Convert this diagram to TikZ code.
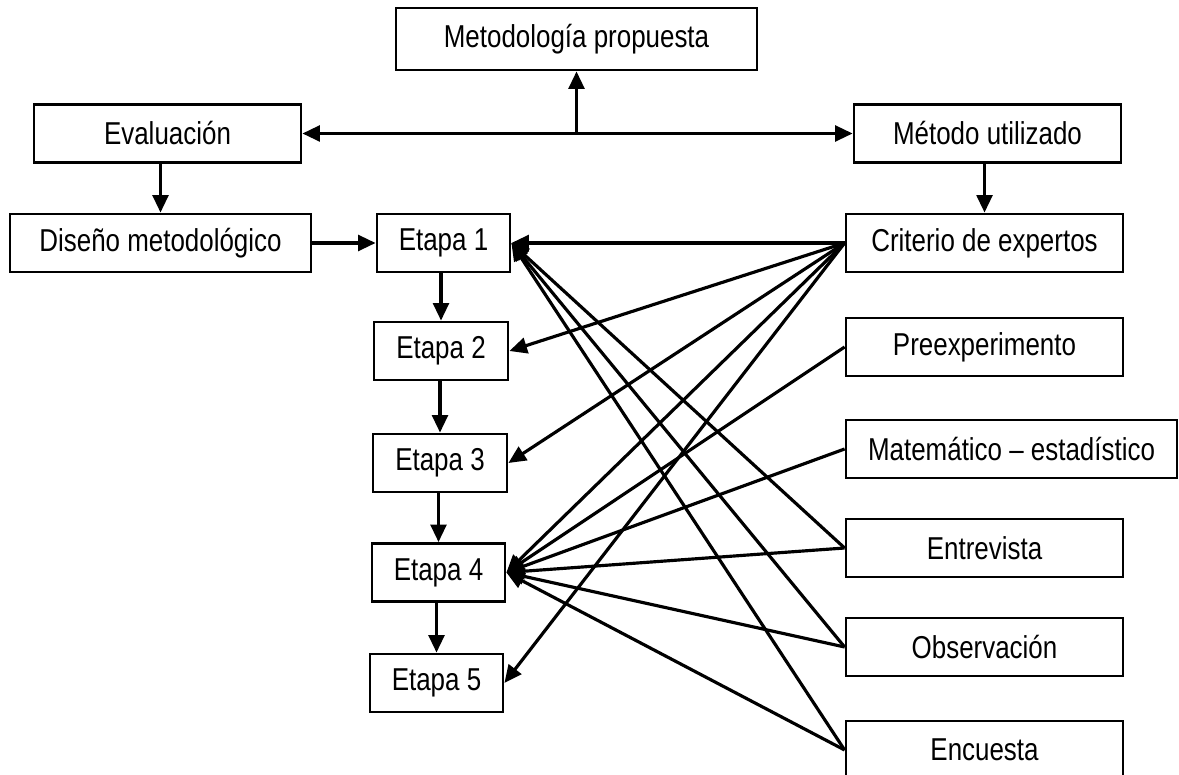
\documentclass[tikz,border=0pt]{standalone}
\usepackage{fontspec}
\setmainfont[FakeStretch=0.82]{Liberation Sans}
\usetikzlibrary{arrows.meta}
\tikzset{
	caja/.style={draw, line width=0.8pt, inner sep=0pt, minimum height=0.58cm, font=\fontsize{9}{10}\selectfont},
	flecha/.style={line width=0.9pt, -{Triangle[length=5pt,width=4.5pt]}},
	dobleflecha/.style={line width=0.9pt, {Triangle[length=5pt,width=4.5pt]}-{Triangle[length=5pt,width=4.5pt]}},
}

\begin{document}
\begin{tikzpicture}
			\useasboundingbox (0,0) rectangle (11.79,7.74);
			\node[caja, minimum width=3.61cm, minimum height=0.62cm] (meto) at (5.765,7.35) {Metodología propuesta};
			\node[caja, minimum width=2.67cm] (eval) at (1.675,6.405) {Evaluación};
			\node[caja, minimum width=2.67cm] (metodo) at (9.875,6.405) {Método utilizado};
			\node[caja, minimum width=3.01cm] (diseno) at (1.605,5.31) {Diseño metodológico};
			\node[caja, minimum width=1.33cm] (e1) at (4.435,5.31) {Etapa 1};
			\node[caja, minimum width=1.34cm] (e2) at (4.41,4.23) {Etapa 2};
			\node[caja, minimum width=1.34cm] (e3) at (4.40,3.11) {Etapa 3};
			\node[caja, minimum width=1.33cm] (e4) at (4.385,2.015) {Etapa 4};
			\node[caja, minimum width=1.33cm] (e5) at (4.365,0.91) {Etapa 5};
			\node[caja, minimum width=2.77cm] (crit) at (9.845,5.31) {Criterio de expertos};
			\node[caja, minimum width=2.77cm] (pre) at (9.845,4.27) {Preexperimento};
			\node[caja, minimum width=3.31cm] (mat) at (10.115,3.25) {Matemático – estadístico};
			\node[caja, minimum width=2.77cm] (entr) at (9.845,2.26) {Entrevista};
			\node[caja, minimum width=2.77cm] (obs) at (9.845,1.27) {Observación};
			\node[caja, minimum width=2.77cm] (enc) at (9.845,0.24) {Encuesta};

			\coordinate (junta) at (meto.south |- eval.east);
			\draw[dobleflecha] (eval.east) -- (metodo.west);
			\draw[flecha] (junta) -- (meto.south);
			\draw[flecha] (eval.south -| diseno.north) -- (diseno.north);
			\draw[flecha] (crit.north |- metodo.south) -- (crit.north);
			\draw[flecha] (diseno.east) -- (e1.west);
			\draw[flecha] (e1.south -| e2.north) -- (e2.north);
			\draw[flecha] (e2.south -| e3.north) -- (e3.north);
			\draw[flecha] (e3.south -| e4.north) -- (e4.north);
			\draw[flecha] (e4.south -| e5.north) -- (e5.north);

			\foreach \e in {e1,e2,e3,e4,e5}
				\draw[flecha] (crit.west) -- (\e.east);
			\foreach \m in {pre,mat,entr,obs,enc}
				\draw[flecha] (\m.west) -- (e4.east);
			\foreach \m in {entr,obs,enc}
				\draw[flecha] (\m.west) -- (e1.east);
		\end{tikzpicture}
\end{document}
